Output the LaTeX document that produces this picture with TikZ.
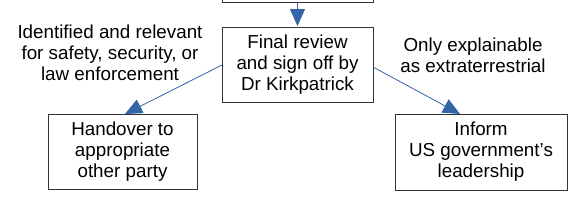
\documentclass[tikz,border=0pt]{standalone}
\usepackage{fontspec}
\setmainfont{Liberation Sans}
\usetikzlibrary{arrows.meta}
\definecolor{arrowblue}{HTML}{3465A4}
\definecolor{boxline}{HTML}{333333}
\begin{document}
\begin{tikzpicture}[x=1pt,y=-1pt,
  box/.style={draw=boxline,line width=0.9pt,fill=white,align=center,inner sep=0pt,
    font=\fontsize{18.8}{21}\selectfont},
  lbl/.style={align=center,inner sep=0pt,font=\fontsize{18.8}{21}\selectfont},
  conn/.style={draw=arrowblue,line width=0.8pt,-{Triangle[length=17pt,width=15pt]}}]
\useasboundingbox (0,0) rectangle (577,212);
\node[box,minimum width=151pt,minimum height=40pt,anchor=south] (top) at (297.5,3) {};
\node[box,minimum width=151pt,minimum height=75pt] (review) at (297.5,64.5)
  {Final review\\and sign off by\\Dr Kirkpatrick};
\node[box,minimum width=149pt,minimum height=75pt] (handover) at (122.5,151.5)
  {Handover to\\appropriate\\other party};
\node[box,minimum width=172pt,minimum height=76pt] (inform) at (481,152)
  {Inform\\US government's\\leadership};
\node[lbl] (l1) at (110,52.5) {Identified and relevant\\for safety, security, or\\law enforcement};
\node[lbl] (l2) at (473,55) {Only explainable\\as extraterrestrial};
\coordinate (rl) at (222,65);
\coordinate (rr) at (373,67);
\coordinate (ht) at (125,114);
\coordinate (it) at (460,114);
\coordinate (tt) at (297.5,26);
\draw[conn] (top.south) -- (tt);
\draw[conn] (rl) -- (ht);
\draw[conn] (rr) -- (it);
\end{tikzpicture}
\end{document}
